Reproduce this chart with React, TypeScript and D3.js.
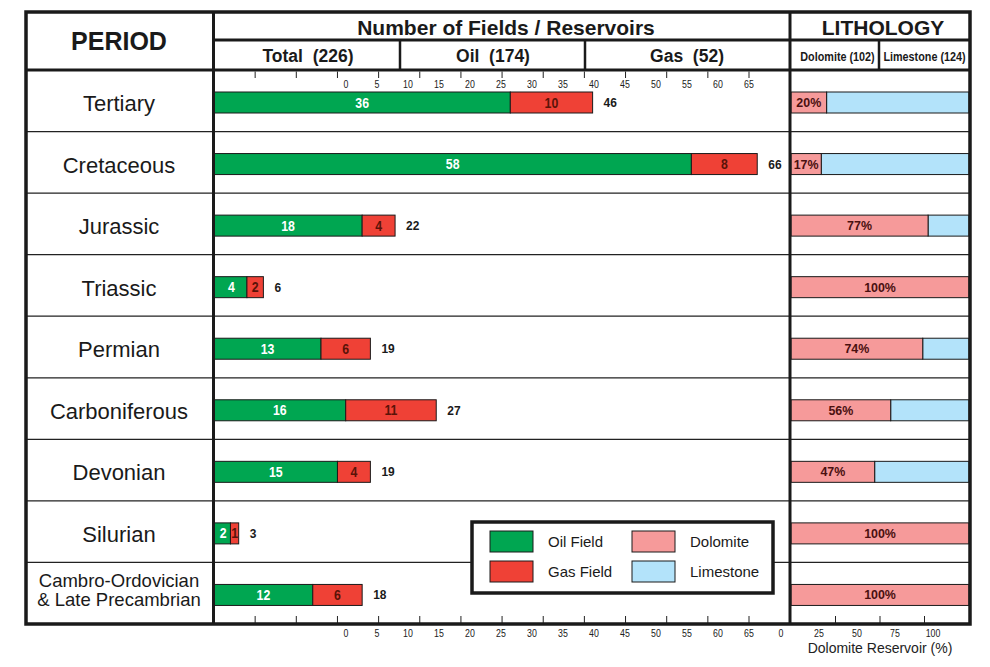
import React from 'react';
import * as d3 from 'd3';

// ---- data ----
const periods = [
  'Tertiary',
  'Cretaceous',
  'Jurassic',
  'Triassic',
  'Permian',
  'Carboniferous',
  'Devonian',
  'Silurian',
  'Cambro-Ordovician|& Late Precambrian',
];
const oilFields = [36, 58, 18, 4, 13, 16, 15, 2, 12];
const gasFields = [10, 8, 4, 2, 6, 11, 4, 1, 6];
const dolomitePct = [20, 17, 77, 100, 74, 56, 47, 100, 100];

const countTicks = [5, 10, 15, 20, 25, 30, 35, 40, 45, 50, 55, 60, 65];
const countTickLabels = [0, 5, 10, 15, 20, 25, 30, 35, 40, 45, 50, 55, 60, 65];
const pctTicks = [25, 50, 75];
const pctTickLabels = [0, 25, 50, 75, 100];

const fieldHeaders = ['Total  (226)', 'Oil  (174)', 'Gas  (52)'];
const lithoHeaders = ['Dolomite (102)', 'Limestone (124)'];
const legendItems = [
  { label: 'Oil Field', key: 'oil' },
  { label: 'Gas Field', key: 'gas' },
  { label: 'Dolomite', key: 'dol' },
  { label: 'Limestone', key: 'lime' },
];

const COLORS: Record<string, string> = {
  oil: '#00a651',
  gas: '#ef4136',
  dol: '#f69a9a',
  lime: '#b3e3fa',
};

const SANS = '"Liberation Sans", Arial, sans-serif';

function NText(props: {
  x: number;
  y: number;
  size: number;
  fill: string;
  bold?: boolean;
  anchor?: 'start' | 'middle' | 'end';
  sx?: number;
  children: React.ReactNode;
}) {
  const sx = props.sx ?? 0.8;
  return (
    <text
      transform={`translate(${props.x},${props.y}) scale(${sx},1)`}
      textAnchor={props.anchor ?? 'middle'}
      fontSize={props.size}
      fontWeight={props.bold ? 'bold' : 'normal'}
      fill={props.fill}
      fontFamily={SANS}
    >
      {props.children}
    </text>
  );
}

export default function App() {
  const W = 990;
  const H = 667;
  const L = 26;
  const R = 970;
  const T = 12;
  const B = 624;
  const periodRight = 213.5;
  const dataRight = 790;
  const hy1 = 40;
  const hy2 = 70;

  const x = d3.scaleLinear().domain([0, 65]).range([214, 749]);
  const xLab = d3.scaleLinear().domain([0, 65]).range([346, 749]);
  const p = d3.scaleLinear().domain([0, 100]).range([791, 969]);
  const pLab = d3.scaleLinear().domain([0, 100]).range([781, 933]);
  const y = d3
    .scaleBand<number>()
    .domain(periods.map((_, i) => i))
    .range([hy2, B])
    .paddingInner(0);
  const barOff = 22;
  const barH = 21;

  const headerDiv = [400, 585];
  const headerCenters = [308, 493, 687];
  const lithoDiv = 879;
  const lithoCenters = [837.5, 924.5];

  return (
    <svg
      width={W}
      height={H}
      style={{ position: 'absolute', left: 0, top: 0, background: '#fff' }}
      fontFamily={SANS}
    >
      <rect x={0} y={0} width={W} height={H} fill="#fff" />

      {/* row separator lines */}
      {periods.slice(1).map((_, i) => (
        <line
          key={'rl' + i}
          x1={L}
          x2={R}
          y1={y(i + 1) as number}
          y2={y(i + 1) as number}
          stroke="#222"
          strokeWidth={1.2}
        />
      ))}

      {/* period labels */}
      {periods.map((name, i) => {
        const top = y(i) as number;
        const parts = name.split('|');
        if (parts.length === 1) {
          return (
            <text key={'pl' + i} x={119} y={top + 41} textAnchor="middle" fontSize={22} fill="#1a1a1a">
              {name}
            </text>
          );
        }
        return (
          <text key={'pl' + i} x={119} textAnchor="middle" fontSize={18.5} fill="#1a1a1a">
            {parts.map((t, j) => (
              <tspan key={j} x={119} y={top + 25 + j * 19}>
                {t}
              </tspan>
            ))}
          </text>
        );
      })}

      {/* top axis ticks */}
      {countTicks.map((t) => (
        <line key={'tt' + t} x1={x(t)} x2={x(t)} y1={hy2 + 1.5} y2={hy2 + 8} stroke="#222" strokeWidth={1} />
      ))}
      {countTickLabels.map((t) => (
        <NText key={'ttl' + t} x={xLab(t)} y={88} size={11} fill="#222">
          {t}
        </NText>
      ))}

      {/* bottom axis ticks */}
      {countTicks.map((t) => (
        <line key={'bt' + t} x1={x(t)} x2={x(t)} y1={B - 8} y2={B - 1} stroke="#222" strokeWidth={1} />
      ))}
      {countTickLabels.map((t) => (
        <NText key={'btl' + t} x={xLab(t)} y={637} size={11} fill="#222">
          {t}
        </NText>
      ))}
      {pctTicks.map((t) => (
        <line key={'pt' + t} x1={p(t)} x2={p(t)} y1={B - 8} y2={B - 1} stroke="#222" strokeWidth={1} />
      ))}
      {pctTickLabels.map((t) => (
        <NText key={'ptl' + t} x={pLab(t)} y={637} size={11} fill="#222">
          {t}
        </NText>
      ))}
      <text x={880} y={653} textAnchor="middle" fontSize={14} fill="#222">
        Dolomite Reservoir (%)
      </text>

      {/* field bars */}
      {periods.map((_, i) => {
        const top = (y(i) as number) + barOff;
        const oil = oilFields[i];
        const gas = gasFields[i];
        const tot = oil + gas;
        return (
          <g key={'b' + i}>
            <rect x={x(0)} y={top} width={x(oil) - x(0)} height={barH} fill={COLORS.oil} stroke="#1a1a1a" strokeWidth={1} />
            <rect x={x(oil)} y={top} width={x(tot) - x(oil)} height={barH} fill={COLORS.gas} stroke="#1a1a1a" strokeWidth={1} />
            <NText x={(x(0) + x(oil)) / 2 + (oil < 5 ? 1 : 0)} y={top + 15.5} size={14} sx={0.88} bold fill="#fff">
              {oil}
            </NText>
            <NText x={(x(oil) + x(tot)) / 2} y={top + 15.5} size={14} sx={0.88} bold fill="#5a1308">
              {gas}
            </NText>
            <NText x={x(tot) + 11} y={top + 15} size={13} sx={0.92} bold anchor="start" fill="#1a1a1a">
              {tot}
            </NText>
          </g>
        );
      })}

      {/* lithology bars */}
      {periods.map((_, i) => {
        const top = (y(i) as number) + barOff;
        const d = dolomitePct[i];
        return (
          <g key={'l' + i}>
            {d < 100 && (
              <rect x={p(d)} y={top} width={p(100) - p(d)} height={barH} fill={COLORS.lime} stroke="#1a1a1a" strokeWidth={1} />
            )}
            <rect x={p(0)} y={top} width={p(d) - p(0)} height={barH} fill={COLORS.dol} stroke="#1a1a1a" strokeWidth={1} />
            <NText x={(p(0) + p(d)) / 2} y={top + 15} size={13.5} sx={0.92} bold fill="#4a1010">
              {d + '%'}
            </NText>
          </g>
        );
      })}

      {/* header texts */}
      <text x={119} y={50} textAnchor="middle" fontSize={25} fontWeight="bold" fill="#1a1a1a">
        PERIOD
      </text>
      <text x={506} y={35} textAnchor="middle" fontSize={21} fontWeight="bold" fill="#1a1a1a">
        Number of Fields / Reservoirs
      </text>
      <text x={883} y={35} textAnchor="middle" fontSize={21} fontWeight="bold" fill="#1a1a1a">
        LITHOLOGY
      </text>
      {fieldHeaders.map((h, i) => (
        <text
          key={'fh' + i}
          x={headerCenters[i]}
          y={61.5}
          textAnchor="middle"
          fontSize={17.5}
          fontWeight="bold"
          fill="#1a1a1a"
          style={{ whiteSpace: 'pre' }}
        >
          {h}
        </text>
      ))}
      {lithoHeaders.map((h, i) => (
        <NText key={'lh' + i} x={lithoCenters[i]} y={60.5} size={13.5} bold sx={0.8} fill="#1a1a1a">
          {h}
        </NText>
      ))}

      {/* structural lines */}
      <line x1={periodRight} x2={R} y1={hy1} y2={hy1} stroke="#1a1a1a" strokeWidth={3} />
      <line x1={L} x2={R} y1={hy2} y2={hy2} stroke="#1a1a1a" strokeWidth={3} />
      <line x1={periodRight} x2={periodRight} y1={T} y2={B} stroke="#1a1a1a" strokeWidth={3} />
      <line x1={dataRight} x2={dataRight} y1={T} y2={B} stroke="#1a1a1a" strokeWidth={3} />
      {headerDiv.map((hx) => (
        <line key={'hd' + hx} x1={hx} x2={hx} y1={hy1} y2={hy2} stroke="#1a1a1a" strokeWidth={2.5} />
      ))}
      <line x1={lithoDiv} x2={lithoDiv} y1={hy1} y2={hy2} stroke="#1a1a1a" strokeWidth={2.5} />
      <rect x={L} y={T} width={R - L} height={B - T} fill="none" stroke="#1a1a1a" strokeWidth={3.5} />

      {/* legend */}
      <rect x={472} y={522} width={301} height={71} fill="#fff" stroke="#1a1a1a" strokeWidth={3.5} />
      {legendItems.map((it, k) => {
        const col = Math.floor(k / 2);
        const row = k % 2;
        const sx = 490 + col * 142;
        const sy = 531 + row * 30;
        return (
          <g key={'lg' + k}>
            <rect x={sx} y={sy} width={43} height={21} fill={COLORS[it.key]} stroke="#1a1a1a" strokeWidth={1} />
            <text x={sx + 58} y={sy + 16} fontSize={15} fill="#1a1a1a">
              {it.label}
            </text>
          </g>
        );
      })}
    </svg>
  );
}
